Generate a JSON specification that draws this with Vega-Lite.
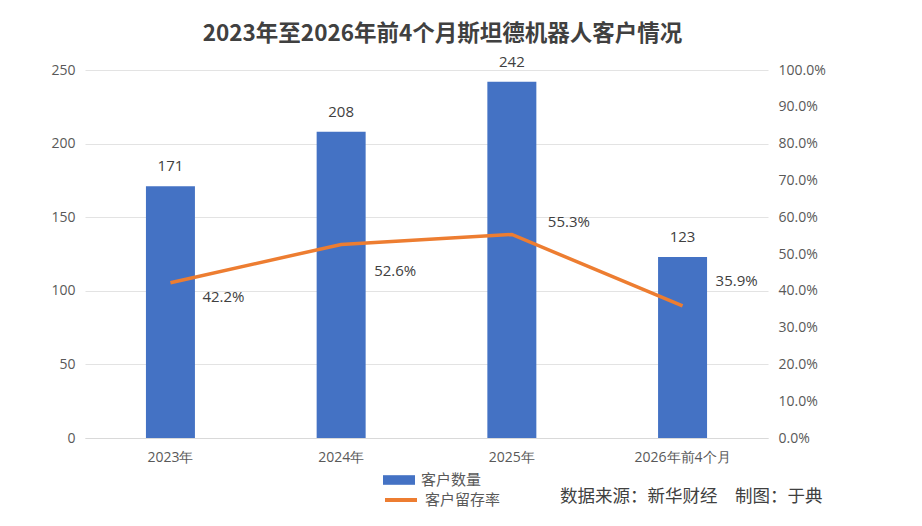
{
  "$schema": "https://vega.github.io/schema/vega-lite/v6.json",
  "width": 683,
  "height": 368,
  "autosize": {"type": "none"},
  "padding": {"left": 85, "top": 70, "right": 154, "bottom": 88},
  "background": "white",
  "config": {
    "view": {"stroke": null},
    "font": "Noto Sans CJK SC",
    "axis": {"labelFont": "Open Sans", "labelColor": "#595959", "labelFontSize": 13}
  },
  "title": {
    "text": "2023年至2026年前4个月斯坦德机器人客户情况",
    "font": "Noto Sans CJK SC",
    "fontSize": 22.5,
    "fontWeight": "bold",
    "color": "#404040",
    "anchor": "middle",
    "dx": 16,
    "offset": 9
  },
  "data": {
    "values": [
      {"period": "2023年", "count": 171, "rate": 0.422},
      {"period": "2024年", "count": 208, "rate": 0.526},
      {"period": "2025年", "count": 242, "rate": 0.553},
      {"period": "2026年前4个月", "count": 123, "rate": 0.359}
    ]
  },
  "encoding": {
    "x": {
      "field": "period",
      "type": "nominal",
      "sort": null,
      "scale": {"paddingInner": 0.713, "paddingOuter": 0.357},
      "axis": {
        "labelAngle": 0,
        "ticks": false,
        "domainColor": "#d9d9d9",
        "labelPadding": 12,
        "labelFontSize": 14,
        "title": "数据来源：新华财经　制图：于典",
        "titleFont": "Noto Sans CJK SC",
        "titleFontSize": 17.5,
        "titleFontWeight": "normal",
        "titleColor": "#404040",
        "titleAlign": "right",
        "titleAnchor": "end",
        "titleX": 737,
        "titleY": 58,
        "titleBaseline": "middle"
      }
    }
  },
  "layer": [
    {
      "encoding": {
        "y": {
          "field": "count",
          "type": "quantitative",
          "scale": {"domain": [0, 250]},
          "axis": {
            "title": null,
            "values": [0, 50, 100, 150, 200, 250],
            "domain": false,
            "ticks": false,
            "labelPadding": 10,
            "gridColor": "#e3e3e3",
            "labelFontSize": 14
          }
        }
      },
      "layer": [
        {
          "mark": {"type": "bar", "color": "#4472C4"},
          "encoding": {
            "color": {
              "datum": "客户数量",
              "scale": {"range": ["#4472C4"]},
              "legend": {
                "title": null,
                "orient": "none",
                "legendX": 298,
                "legendY": 394,
                "symbolType": "M-1,-0.3H1V0.3H-1Z",
                "symbolSize": 1024,
                "symbolStrokeWidth": 0,
                "labelOffset": 6,
                "labelFont": "Noto Sans CJK SC",
                "labelFontSize": 15,
                "labelColor": "#595959"
              }
            }
          }
        },
        {
          "mark": {"type": "text", "dy": -20, "fontSize": 15, "color": "#404040", "font": "Open Sans"},
          "encoding": {"text": {"field": "count", "type": "quantitative"}}
        }
      ]
    },
    {
      "encoding": {
        "y": {
          "field": "rate",
          "type": "quantitative",
          "scale": {"domain": [0, 1]},
          "axis": {
            "orient": "right",
            "title": null,
            "format": ".1%",
            "values": [0, 0.1, 0.2, 0.3, 0.4, 0.5, 0.6, 0.7, 0.8, 0.9, 1],
            "domain": false,
            "ticks": false,
            "grid": false,
            "labelPadding": 10,
            "labelFontSize": 14
          }
        }
      },
      "layer": [
        {
          "mark": {"type": "line", "strokeWidth": 3.5},
          "encoding": {
            "stroke": {
              "datum": "客户留存率",
              "scale": {"range": ["#ED7D31"]},
              "legend": {
                "title": null,
                "orient": "none",
                "legendX": 298,
                "legendY": 412,
                "symbolType": "stroke",
                "symbolSize": 1024,
                "symbolStrokeWidth": 4,
                "labelOffset": 6,
                "labelFont": "Noto Sans CJK SC",
                "labelFontSize": 15,
                "labelColor": "#595959"
              }
            }
          }
        },
        {
          "transform": [{"filter": "datum.period == '2023年'"}],
          "mark": {"type": "text", "align": "left", "dx": 32, "dy": 14, "fontSize": 15, "color": "#404040", "font": "Open Sans"},
          "encoding": {"text": {"field": "rate", "type": "quantitative", "format": ".1%"}}
        },
        {
          "transform": [{"filter": "datum.period == '2024年'"}],
          "mark": {"type": "text", "align": "left", "dx": 33, "dy": 27, "fontSize": 15, "color": "#404040", "font": "Open Sans"},
          "encoding": {"text": {"field": "rate", "type": "quantitative", "format": ".1%"}}
        },
        {
          "transform": [{"filter": "datum.period == '2025年'"}],
          "mark": {"type": "text", "align": "left", "dx": 36, "dy": -12, "fontSize": 15, "color": "#404040", "font": "Open Sans"},
          "encoding": {"text": {"field": "rate", "type": "quantitative", "format": ".1%"}}
        },
        {
          "transform": [{"filter": "datum.period == '2026年前4个月'"}],
          "mark": {"type": "text", "align": "left", "dx": 33, "dy": -25, "fontSize": 15, "color": "#404040", "font": "Open Sans"},
          "encoding": {"text": {"field": "rate", "type": "quantitative", "format": ".1%"}}
        }
      ]
    }
  ],
  "resolve": {"scale": {"y": "independent", "color": "independent"}}
}
